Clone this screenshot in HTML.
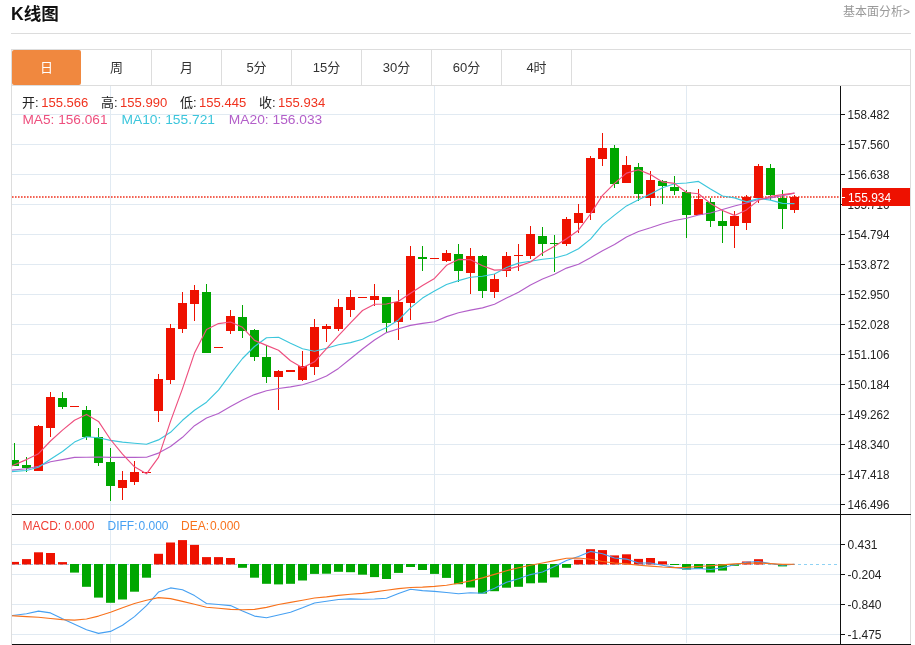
<!DOCTYPE html>
<html lang="zh-CN"><head><meta charset="utf-8"><title>K线图</title>
<style>
html,body{margin:0;padding:0;background:#fff;}
body{width:915px;height:645px;overflow:hidden;position:relative;font-family:"Liberation Sans","Noto Sans CJK SC",sans-serif;}
svg{position:absolute;left:0;top:0;display:block;}
svg text{font-family:"Liberation Sans","Noto Sans CJK SC",sans-serif;}
.ax{font-size:12px;fill:#222;}
.tab{font-size:13px;fill:#333;text-anchor:middle;}
</style></head><body>
<svg width="915" height="645" viewBox="0 0 915 645">
<defs><clipPath id="cp"><rect x="12" y="86" width="828" height="558"/></clipPath></defs>
<text x="11" y="19.6" font-size="17.6" font-weight="bold" fill="#111">K线图</text>
<text x="910" y="15.5" font-size="12" fill="#999" text-anchor="end">基本面分析&gt;</text>
<rect x="11" y="33" width="900" height="1" fill="#dcdcdc"/>
<rect x="11.5" y="49.5" width="899" height="36" fill="#fff" stroke="#dddddd" stroke-width="1"/>
<rect x="12" y="50" width="69" height="35" rx="2" ry="2" fill="#f0883f"/>
<text class="tab" x="46.5" y="72.2" style="fill:#fff">日</text>
<text class="tab" x="116.5" y="72.2">周</text>
<rect x="151" y="50" width="1" height="35" fill="#dddddd"/>
<text class="tab" x="186.5" y="72.2">月</text>
<rect x="221" y="50" width="1" height="35" fill="#dddddd"/>
<text class="tab" x="256.5" y="72.2">5分</text>
<rect x="291" y="50" width="1" height="35" fill="#dddddd"/>
<text class="tab" x="326.5" y="72.2">15分</text>
<rect x="361" y="50" width="1" height="35" fill="#dddddd"/>
<text class="tab" x="396.5" y="72.2">30分</text>
<rect x="431" y="50" width="1" height="35" fill="#dddddd"/>
<text class="tab" x="466.5" y="72.2">60分</text>
<rect x="501" y="50" width="1" height="35" fill="#dddddd"/>
<text class="tab" x="536.5" y="72.2">4时</text>
<rect x="571" y="50" width="1" height="35" fill="#dddddd"/>
<rect x="11" y="86" width="1" height="559" fill="#dddddd"/>
<rect x="910" y="86" width="1" height="559" fill="#dddddd"/>
<rect x="12" y="114" width="828" height="1" fill="#e1eaf2"/>
<rect x="12" y="144" width="828" height="1" fill="#e1eaf2"/>
<rect x="12" y="174" width="828" height="1" fill="#e1eaf2"/>
<rect x="12" y="204" width="828" height="1" fill="#e1eaf2"/>
<rect x="12" y="234" width="828" height="1" fill="#e1eaf2"/>
<rect x="12" y="264" width="828" height="1" fill="#e1eaf2"/>
<rect x="12" y="294" width="828" height="1" fill="#e1eaf2"/>
<rect x="12" y="324" width="828" height="1" fill="#e1eaf2"/>
<rect x="12" y="354" width="828" height="1" fill="#e1eaf2"/>
<rect x="12" y="384" width="828" height="1" fill="#e1eaf2"/>
<rect x="12" y="414" width="828" height="1" fill="#e1eaf2"/>
<rect x="12" y="444" width="828" height="1" fill="#e1eaf2"/>
<rect x="12" y="474" width="828" height="1" fill="#e1eaf2"/>
<rect x="12" y="504" width="828" height="1" fill="#e1eaf2"/>
<rect x="12" y="544" width="828" height="1" fill="#e1eaf2"/>
<rect x="12" y="574" width="828" height="1" fill="#e1eaf2"/>
<rect x="12" y="604" width="828" height="1" fill="#e1eaf2"/>
<rect x="12" y="634" width="828" height="1" fill="#e1eaf2"/>
<rect x="110" y="86" width="1" height="557" fill="#e1eaf2"/>
<rect x="434" y="86" width="1" height="557" fill="#e1eaf2"/>
<rect x="686" y="86" width="1" height="557" fill="#e1eaf2"/>
<text x="22.1" y="106.6" font-size="13" fill="#222">开:</text>
<text x="41.2" y="106.6" font-size="13" fill="#f0321e" textLength="47.2" lengthAdjust="spacingAndGlyphs">155.566</text>
<text x="101" y="106.6" font-size="13" fill="#222">高:</text>
<text x="120" y="106.6" font-size="13" fill="#f0321e" textLength="47.2" lengthAdjust="spacingAndGlyphs">155.990</text>
<text x="180" y="106.6" font-size="13" fill="#222">低:</text>
<text x="199" y="106.6" font-size="13" fill="#f0321e" textLength="47.2" lengthAdjust="spacingAndGlyphs">155.445</text>
<text x="259" y="106.6" font-size="13" fill="#222">收:</text>
<text x="278" y="106.6" font-size="13" fill="#f0321e" textLength="47.2" lengthAdjust="spacingAndGlyphs">155.934</text>
<text x="22.5" y="123.9" font-size="13" fill="#ee4f7e" textLength="85" lengthAdjust="spacingAndGlyphs">MA5: 156.061</text>
<text x="121.5" y="123.9" font-size="13" fill="#3cc6dc" textLength="93.5" lengthAdjust="spacingAndGlyphs">MA10: 155.721</text>
<text x="228.8" y="123.9" font-size="13" fill="#b35fc9" textLength="93.5" lengthAdjust="spacingAndGlyphs">MA20: 156.033</text>
<line x1="12" y1="197" x2="840" y2="197" stroke="#f0321e" stroke-width="1.4" stroke-dasharray="1.6,1.4"/>
<g clip-path="url(#cp)">
<line x1="12" y1="564.5" x2="838" y2="564.5" stroke="#8fd2f4" stroke-width="1" stroke-dasharray="3,3"/>
<rect x="10" y="561.9" width="9" height="2.6" fill="#ee1100"/>
<rect x="22" y="559.1" width="9" height="5.4" fill="#ee1100"/>
<rect x="34" y="552.3" width="9" height="12.2" fill="#ee1100"/>
<rect x="46" y="553" width="9" height="11.5" fill="#ee1100"/>
<rect x="58" y="562.1" width="9" height="2.4" fill="#ee1100"/>
<rect x="70" y="564" width="9" height="8.6" fill="#00a600"/>
<rect x="82" y="564" width="9" height="22.8" fill="#00a600"/>
<rect x="94" y="564" width="9" height="33.6" fill="#00a600"/>
<rect x="106" y="564" width="9" height="38.8" fill="#00a600"/>
<rect x="118" y="564" width="9" height="35.5" fill="#00a600"/>
<rect x="130" y="564" width="9" height="27.7" fill="#00a600"/>
<rect x="142" y="564" width="9" height="13.7" fill="#00a600"/>
<rect x="154" y="553.8" width="9" height="10.7" fill="#ee1100"/>
<rect x="166" y="542.5" width="9" height="22" fill="#ee1100"/>
<rect x="178" y="540.1" width="9" height="24.4" fill="#ee1100"/>
<rect x="190" y="544.9" width="9" height="19.6" fill="#ee1100"/>
<rect x="202" y="557.1" width="9" height="7.4" fill="#ee1100"/>
<rect x="214" y="557.1" width="9" height="7.4" fill="#ee1100"/>
<rect x="226" y="558" width="9" height="6.5" fill="#ee1100"/>
<rect x="238" y="564" width="9" height="3.8" fill="#00a600"/>
<rect x="250" y="564" width="9" height="13.7" fill="#00a600"/>
<rect x="262" y="564" width="9" height="19.8" fill="#00a600"/>
<rect x="274" y="564" width="9" height="20.4" fill="#00a600"/>
<rect x="286" y="564" width="9" height="19.8" fill="#00a600"/>
<rect x="298" y="564" width="9" height="16.5" fill="#00a600"/>
<rect x="310" y="564" width="9" height="9.9" fill="#00a600"/>
<rect x="322" y="564" width="9" height="9.7" fill="#00a600"/>
<rect x="334" y="564" width="9" height="7.8" fill="#00a600"/>
<rect x="346" y="564" width="9" height="8.2" fill="#00a600"/>
<rect x="358" y="564" width="9" height="10.7" fill="#00a600"/>
<rect x="370" y="564" width="9" height="13.1" fill="#00a600"/>
<rect x="382" y="564" width="9" height="15" fill="#00a600"/>
<rect x="394" y="564" width="9" height="8.9" fill="#00a600"/>
<rect x="406" y="564" width="9" height="3" fill="#00a600"/>
<rect x="418" y="564" width="9" height="6" fill="#00a600"/>
<rect x="430" y="564" width="9" height="9.9" fill="#00a600"/>
<rect x="442" y="564" width="9" height="13.9" fill="#00a600"/>
<rect x="454" y="564" width="9" height="20.2" fill="#00a600"/>
<rect x="466" y="564" width="9" height="23.5" fill="#00a600"/>
<rect x="478" y="564" width="9" height="29.6" fill="#00a600"/>
<rect x="490" y="564" width="9" height="27.2" fill="#00a600"/>
<rect x="502" y="564" width="9" height="23.7" fill="#00a600"/>
<rect x="514" y="564" width="9" height="22.8" fill="#00a600"/>
<rect x="526" y="564" width="9" height="19.3" fill="#00a600"/>
<rect x="538" y="564" width="9" height="18.7" fill="#00a600"/>
<rect x="550" y="564" width="9" height="13.4" fill="#00a600"/>
<rect x="562" y="564" width="9" height="3.8" fill="#00a600"/>
<rect x="574" y="559.7" width="9" height="4.8" fill="#ee1100"/>
<rect x="586" y="549.2" width="9" height="15.3" fill="#ee1100"/>
<rect x="598" y="550.1" width="9" height="14.4" fill="#ee1100"/>
<rect x="610" y="555.4" width="9" height="9.1" fill="#ee1100"/>
<rect x="622" y="554.3" width="9" height="10.2" fill="#ee1100"/>
<rect x="634" y="558.9" width="9" height="5.6" fill="#ee1100"/>
<rect x="646" y="558" width="9" height="6.5" fill="#ee1100"/>
<rect x="658" y="561.3" width="9" height="3.2" fill="#ee1100"/>
<rect x="670" y="564" width="9" height="1" fill="#00a600"/>
<rect x="682" y="564" width="9" height="5.6" fill="#00a600"/>
<rect x="694" y="564" width="9" height="4.9" fill="#00a600"/>
<rect x="706" y="564" width="9" height="8.5" fill="#00a600"/>
<rect x="718" y="564" width="9" height="6.6" fill="#00a600"/>
<rect x="730" y="564" width="9" height="1.8" fill="#00a600"/>
<rect x="742" y="561.5" width="9" height="3" fill="#ee1100"/>
<rect x="754" y="559.2" width="9" height="5.3" fill="#ee1100"/>
<rect x="778" y="564" width="9" height="2.4" fill="#00a600"/>
<rect x="14" y="443" width="1" height="23" fill="#00a600"/>
<rect x="10" y="460" width="9" height="6" fill="#00a600"/>
<rect x="26" y="457" width="1" height="15" fill="#00a600"/>
<rect x="22" y="465" width="9" height="3" fill="#00a600"/>
<rect x="38" y="425" width="1" height="46" fill="#ee1100"/>
<rect x="34" y="426" width="9" height="45" fill="#ee1100"/>
<rect x="50" y="392" width="1" height="45" fill="#ee1100"/>
<rect x="46" y="397" width="9" height="31" fill="#ee1100"/>
<rect x="62" y="392" width="1" height="17" fill="#00a600"/>
<rect x="58" y="398" width="9" height="9" fill="#00a600"/>
<rect x="70" y="406" width="9" height="1" fill="#ee1100"/>
<rect x="86" y="406" width="1" height="34" fill="#00a600"/>
<rect x="82" y="410" width="9" height="27" fill="#00a600"/>
<rect x="98" y="428" width="1" height="38" fill="#00a600"/>
<rect x="94" y="437" width="9" height="26" fill="#00a600"/>
<rect x="110" y="448" width="1" height="53" fill="#00a600"/>
<rect x="106" y="462" width="9" height="24" fill="#00a600"/>
<rect x="122" y="471" width="1" height="29" fill="#ee1100"/>
<rect x="118" y="480" width="9" height="8" fill="#ee1100"/>
<rect x="134" y="461" width="1" height="24" fill="#ee1100"/>
<rect x="130" y="472" width="9" height="10" fill="#ee1100"/>
<rect x="142" y="472" width="9" height="1" fill="#ee1100"/>
<rect x="158" y="374" width="1" height="48" fill="#ee1100"/>
<rect x="154" y="379" width="9" height="32" fill="#ee1100"/>
<rect x="170" y="324" width="1" height="60" fill="#ee1100"/>
<rect x="166" y="328" width="9" height="52" fill="#ee1100"/>
<rect x="182" y="292" width="1" height="41" fill="#ee1100"/>
<rect x="178" y="303" width="9" height="26" fill="#ee1100"/>
<rect x="194" y="285" width="1" height="36" fill="#ee1100"/>
<rect x="190" y="290" width="9" height="14" fill="#ee1100"/>
<rect x="206" y="284" width="1" height="69" fill="#00a600"/>
<rect x="202" y="292" width="9" height="61" fill="#00a600"/>
<rect x="214" y="347" width="9" height="1" fill="#ee1100"/>
<rect x="230" y="310" width="1" height="24" fill="#ee1100"/>
<rect x="226" y="316" width="9" height="15" fill="#ee1100"/>
<rect x="242" y="305" width="1" height="33" fill="#00a600"/>
<rect x="238" y="317" width="9" height="14" fill="#00a600"/>
<rect x="254" y="329" width="1" height="32" fill="#00a600"/>
<rect x="250" y="330" width="9" height="27" fill="#00a600"/>
<rect x="266" y="345" width="1" height="38" fill="#00a600"/>
<rect x="262" y="357" width="9" height="20" fill="#00a600"/>
<rect x="278" y="370" width="1" height="40" fill="#ee1100"/>
<rect x="274" y="371" width="9" height="6" fill="#ee1100"/>
<rect x="286" y="370" width="9" height="2" fill="#ee1100"/>
<rect x="302" y="351" width="1" height="30" fill="#ee1100"/>
<rect x="298" y="366" width="9" height="14" fill="#ee1100"/>
<rect x="314" y="319" width="1" height="56" fill="#ee1100"/>
<rect x="310" y="327" width="9" height="40" fill="#ee1100"/>
<rect x="326" y="324" width="1" height="18" fill="#ee1100"/>
<rect x="322" y="326" width="9" height="3" fill="#ee1100"/>
<rect x="338" y="299" width="1" height="32" fill="#ee1100"/>
<rect x="334" y="307" width="9" height="22" fill="#ee1100"/>
<rect x="350" y="290" width="1" height="27" fill="#ee1100"/>
<rect x="346" y="297" width="9" height="13" fill="#ee1100"/>
<rect x="358" y="297" width="9" height="1" fill="#ee1100"/>
<rect x="374" y="284" width="1" height="22" fill="#ee1100"/>
<rect x="370" y="296" width="9" height="4" fill="#ee1100"/>
<rect x="386" y="297" width="1" height="35" fill="#00a600"/>
<rect x="382" y="297" width="9" height="26" fill="#00a600"/>
<rect x="398" y="290" width="1" height="50" fill="#ee1100"/>
<rect x="394" y="302" width="9" height="20" fill="#ee1100"/>
<rect x="410" y="246" width="1" height="74" fill="#ee1100"/>
<rect x="406" y="256" width="9" height="47" fill="#ee1100"/>
<rect x="422" y="246" width="1" height="25" fill="#00a600"/>
<rect x="418" y="257" width="9" height="2" fill="#00a600"/>
<rect x="430" y="258" width="9" height="1" fill="#ee1100"/>
<rect x="446" y="250" width="1" height="12" fill="#ee1100"/>
<rect x="442" y="253" width="9" height="8" fill="#ee1100"/>
<rect x="458" y="244" width="1" height="38" fill="#00a600"/>
<rect x="454" y="254" width="9" height="17" fill="#00a600"/>
<rect x="470" y="248" width="1" height="46" fill="#ee1100"/>
<rect x="466" y="256" width="9" height="17" fill="#ee1100"/>
<rect x="482" y="255" width="1" height="43" fill="#00a600"/>
<rect x="478" y="256" width="9" height="35" fill="#00a600"/>
<rect x="494" y="274" width="1" height="24" fill="#ee1100"/>
<rect x="490" y="279" width="9" height="13" fill="#ee1100"/>
<rect x="506" y="252" width="1" height="25" fill="#ee1100"/>
<rect x="502" y="256" width="9" height="15" fill="#ee1100"/>
<rect x="518" y="244" width="1" height="27" fill="#ee1100"/>
<rect x="514" y="255" width="9" height="1" fill="#ee1100"/>
<rect x="530" y="226" width="1" height="33" fill="#ee1100"/>
<rect x="526" y="234" width="9" height="22" fill="#ee1100"/>
<rect x="542" y="227" width="1" height="29" fill="#00a600"/>
<rect x="538" y="236" width="9" height="8" fill="#00a600"/>
<rect x="554" y="235" width="1" height="37" fill="#00a600"/>
<rect x="550" y="243" width="9" height="1" fill="#00a600"/>
<rect x="566" y="217" width="1" height="29" fill="#ee1100"/>
<rect x="562" y="219" width="9" height="25" fill="#ee1100"/>
<rect x="578" y="204" width="1" height="29" fill="#ee1100"/>
<rect x="574" y="213" width="9" height="10" fill="#ee1100"/>
<rect x="590" y="156" width="1" height="64" fill="#ee1100"/>
<rect x="586" y="158" width="9" height="55" fill="#ee1100"/>
<rect x="602" y="133" width="1" height="33" fill="#ee1100"/>
<rect x="598" y="148" width="9" height="11" fill="#ee1100"/>
<rect x="614" y="145" width="1" height="43" fill="#00a600"/>
<rect x="610" y="148" width="9" height="36" fill="#00a600"/>
<rect x="626" y="156" width="1" height="27" fill="#ee1100"/>
<rect x="622" y="165" width="9" height="18" fill="#ee1100"/>
<rect x="638" y="163" width="1" height="38" fill="#00a600"/>
<rect x="634" y="167" width="9" height="27" fill="#00a600"/>
<rect x="650" y="171" width="1" height="35" fill="#ee1100"/>
<rect x="646" y="180" width="9" height="18" fill="#ee1100"/>
<rect x="662" y="180" width="1" height="24" fill="#00a600"/>
<rect x="658" y="181" width="9" height="5" fill="#00a600"/>
<rect x="674" y="176" width="1" height="19" fill="#00a600"/>
<rect x="670" y="187" width="9" height="4" fill="#00a600"/>
<rect x="686" y="190" width="1" height="48" fill="#00a600"/>
<rect x="682" y="192" width="9" height="23" fill="#00a600"/>
<rect x="698" y="189" width="1" height="26" fill="#ee1100"/>
<rect x="694" y="199" width="9" height="16" fill="#ee1100"/>
<rect x="710" y="198" width="1" height="29" fill="#00a600"/>
<rect x="706" y="202" width="9" height="19" fill="#00a600"/>
<rect x="722" y="210" width="1" height="33" fill="#00a600"/>
<rect x="718" y="221" width="9" height="5" fill="#00a600"/>
<rect x="734" y="211" width="1" height="37" fill="#ee1100"/>
<rect x="730" y="216" width="9" height="10" fill="#ee1100"/>
<rect x="746" y="195" width="1" height="35" fill="#ee1100"/>
<rect x="742" y="197" width="9" height="26" fill="#ee1100"/>
<rect x="758" y="164" width="1" height="39" fill="#ee1100"/>
<rect x="754" y="166" width="9" height="32" fill="#ee1100"/>
<rect x="770" y="164" width="1" height="36" fill="#00a600"/>
<rect x="766" y="168" width="9" height="27" fill="#00a600"/>
<rect x="782" y="190" width="1" height="39" fill="#00a600"/>
<rect x="778" y="198" width="9" height="11" fill="#00a600"/>
<rect x="794" y="195" width="1" height="18" fill="#ee1100"/>
<rect x="790" y="197" width="9" height="13" fill="#ee1100"/>
<polyline fill="none" stroke="#b35fc9" stroke-width="1.15" stroke-linejoin="round" points="2.5,471 14.5,469.9 26.5,468.8 38.5,466.2 50.5,461.8 62.5,459.6 74.5,457.4 86.5,457.2 98.5,457 110.5,457.4 122.5,457.4 134.5,457.4 146.5,457.2 158.5,453.1 170.5,446.5 182.5,437.3 194.5,425.7 206.5,418 218.5,413.5 230.5,406.6 242.5,400 254.5,394.6 266.5,390.7 278.5,388.5 290.5,386.9 302.5,384.8 314.5,381 326.5,376 338.5,368.4 350.5,358.7 362.5,349 374.5,340 386.5,332.6 398.5,328.7 410.5,325.4 422.5,323.4 434.5,321.7 446.5,316.6 458.5,312.7 470.5,310.1 482.5,307.9 494.5,304.2 506.5,298.1 518.5,292.2 530.5,284.9 542.5,279 554.5,274.2 566.5,268.1 578.5,264.2 590.5,257.7 602.5,250.7 614.5,244.6 626.5,236.9 638.5,231.5 650.5,227.8 662.5,223.8 674.5,220.5 686.5,218.2 698.5,215 710.5,213 722.5,209.5 734.5,206 746.5,203 758.5,199.5 770.5,197.9 782.5,195.7 794.5,193.1"/>
<polyline fill="none" stroke="#3cc6dc" stroke-width="1.15" stroke-linejoin="round" points="2.5,472.3 14.5,471.4 26.5,470.5 38.5,467.3 50.5,459.2 62.5,451.5 74.5,442.1 86.5,436.7 98.5,437.8 110.5,440.4 122.5,442.1 134.5,443.2 146.5,444.3 158.5,439.9 170.5,432.3 182.5,420.3 194.5,410.2 206.5,402.2 218.5,390.2 230.5,373.8 242.5,358.5 254.5,346.5 266.5,337.8 278.5,337.3 290.5,343.2 302.5,348.7 314.5,351.3 326.5,348.3 338.5,344.8 350.5,342.6 362.5,339.3 374.5,333 386.5,327.6 398.5,319.9 410.5,307.9 422.5,298.1 434.5,291.1 446.5,284.5 458.5,280.6 470.5,277.3 482.5,276.2 494.5,274 506.5,267.5 518.5,263.1 530.5,261.3 542.5,259.2 554.5,258 566.5,254.8 578.5,248.8 590.5,239.1 602.5,224.9 614.5,215.1 626.5,205.9 638.5,199.8 650.5,193.9 662.5,187.8 674.5,183.8 686.5,183 698.5,181.4 710.5,189 722.5,196 734.5,197.9 746.5,201.9 758.5,198.6 770.5,200.1 782.5,203.4 794.5,203.6"/>
<polyline fill="none" stroke="#ee4f7e" stroke-width="1.15" stroke-linejoin="round" points="2.5,470 14.5,464.8 26.5,459.6 38.5,453.7 50.5,441 62.5,430.1 74.5,420.3 86.5,414.4 98.5,421.4 110.5,439.5 122.5,454.2 134.5,466.8 146.5,473.8 158.5,457.4 170.5,421.4 182.5,388.6 194.5,353.1 206.5,329.5 218.5,323.6 230.5,322 242.5,327.3 254.5,340.4 266.5,345.4 278.5,350.2 290.5,360.7 302.5,367.7 314.5,361.8 326.5,348.7 338.5,335.6 350.5,322.8 362.5,310.5 374.5,304.2 386.5,304 398.5,301.3 410.5,293.3 422.5,285.4 434.5,278.4 446.5,265.3 458.5,259.4 470.5,259.8 482.5,265.7 494.5,270.1 506.5,269.6 518.5,266.4 530.5,262 542.5,253 554.5,246.2 566.5,238.8 578.5,230.2 590.5,214 602.5,195.4 614.5,183.4 626.5,173.1 638.5,169.8 650.5,174.6 662.5,181.9 674.5,183.4 686.5,192.5 698.5,193.8 710.5,203.5 722.5,210.5 734.5,215.4 746.5,209.9 758.5,200.1 770.5,196.4 782.5,194.6 794.5,193.1"/>
<polyline fill="none" stroke="#46a0f2" stroke-width="1.1" stroke-linejoin="round" points="2.5,616.9 14.5,615.3 26.5,613.7 38.5,611.1 50.5,612.9 62.5,618.8 74.5,624.2 86.5,629.7 98.5,633.4 110.5,631.4 122.5,625.3 134.5,616.6 146.5,605.6 158.5,592.1 170.5,587.9 182.5,589.7 194.5,595.6 206.5,603.5 218.5,604.5 230.5,605.6 242.5,611.1 254.5,616.1 266.5,617.7 278.5,615 290.5,612.2 302.5,607.8 314.5,603 326.5,601.3 338.5,599.5 350.5,598.9 362.5,599.3 374.5,599 386.5,598.2 398.5,593.6 410.5,589.2 422.5,590.6 434.5,591.4 446.5,592.5 458.5,593.8 470.5,592.7 482.5,593.2 494.5,588.2 506.5,582.3 518.5,578.8 530.5,574.6 542.5,572 554.5,566.6 566.5,560.4 578.5,556.5 590.5,551.4 602.5,553.8 614.5,558 626.5,559.1 638.5,563 650.5,563 662.5,565.2 674.5,567.4 686.5,569.1 698.5,568.5 710.5,569.5 722.5,567.8 734.5,564.7 746.5,562.3 758.5,561.5 770.5,563.6 782.5,565.3 794.5,564.3"/>
<polyline fill="none" stroke="#f8721c" stroke-width="1.1" stroke-linejoin="round" points="2.5,615.2 14.5,615.9 26.5,616.6 38.5,617.2 50.5,618.5 62.5,619.6 74.5,620.1 86.5,619 98.5,616.1 110.5,612.2 122.5,607.8 134.5,603.5 146.5,600.2 158.5,597.6 170.5,598.6 182.5,601.4 194.5,604.3 206.5,607.2 218.5,608.3 230.5,609.4 242.5,609.8 254.5,609.4 266.5,607.4 278.5,604.5 290.5,602.4 302.5,600.2 314.5,598 326.5,596.9 338.5,595.4 350.5,594.3 362.5,593.4 374.5,591.9 386.5,590.3 398.5,588.6 410.5,587.5 422.5,587.1 434.5,586.4 446.5,585.3 458.5,583.3 470.5,580.9 482.5,577.9 494.5,574.4 506.5,570.7 518.5,567.8 530.5,565.2 542.5,563 554.5,560.6 566.5,558.2 578.5,558 590.5,559.3 602.5,561.5 614.5,563 626.5,563.9 638.5,565.2 650.5,566.1 662.5,567 674.5,567.6 686.5,567.4 698.5,566.5 710.5,565.7 722.5,564.9 734.5,563.9 746.5,563.2 758.5,562.9 770.5,563.6 782.5,564.4 794.5,564.3"/>
</g>
<text x="22.5" y="529.5" font-size="12" fill="#f03c32" textLength="72" lengthAdjust="spacingAndGlyphs">MACD: 0.000</text>
<text x="107.5" y="529.5" font-size="12" fill="#46a0f2">DIFF:<tspan dx="1">0.000</tspan></text>
<text x="181" y="529.5" font-size="12" fill="#f8721c">DEA:<tspan dx="1">0.000</tspan></text>
<rect x="840" y="86" width="1" height="559" fill="#111"/>
<rect x="12" y="514" width="899" height="1" fill="#111"/>
<rect x="12" y="644" width="899" height="1" fill="#111"/>
<rect x="841" y="114" width="4" height="1" fill="#111"/>
<text class="ax" x="847.5" y="118.5" textLength="42" lengthAdjust="spacingAndGlyphs">158.482</text>
<rect x="841" y="144" width="4" height="1" fill="#111"/>
<text class="ax" x="847.5" y="148.5" textLength="42" lengthAdjust="spacingAndGlyphs">157.560</text>
<rect x="841" y="174" width="4" height="1" fill="#111"/>
<text class="ax" x="847.5" y="178.5" textLength="42" lengthAdjust="spacingAndGlyphs">156.638</text>
<rect x="841" y="204" width="4" height="1" fill="#111"/>
<text class="ax" x="847.5" y="208.5" textLength="42" lengthAdjust="spacingAndGlyphs">155.716</text>
<rect x="841" y="234" width="4" height="1" fill="#111"/>
<text class="ax" x="847.5" y="238.5" textLength="42" lengthAdjust="spacingAndGlyphs">154.794</text>
<rect x="841" y="264" width="4" height="1" fill="#111"/>
<text class="ax" x="847.5" y="268.5" textLength="42" lengthAdjust="spacingAndGlyphs">153.872</text>
<rect x="841" y="294" width="4" height="1" fill="#111"/>
<text class="ax" x="847.5" y="298.5" textLength="42" lengthAdjust="spacingAndGlyphs">152.950</text>
<rect x="841" y="324" width="4" height="1" fill="#111"/>
<text class="ax" x="847.5" y="328.5" textLength="42" lengthAdjust="spacingAndGlyphs">152.028</text>
<rect x="841" y="354" width="4" height="1" fill="#111"/>
<text class="ax" x="847.5" y="358.5" textLength="42" lengthAdjust="spacingAndGlyphs">151.106</text>
<rect x="841" y="384" width="4" height="1" fill="#111"/>
<text class="ax" x="847.5" y="388.5" textLength="42" lengthAdjust="spacingAndGlyphs">150.184</text>
<rect x="841" y="414" width="4" height="1" fill="#111"/>
<text class="ax" x="847.5" y="418.5" textLength="42" lengthAdjust="spacingAndGlyphs">149.262</text>
<rect x="841" y="444" width="4" height="1" fill="#111"/>
<text class="ax" x="847.5" y="448.5" textLength="42" lengthAdjust="spacingAndGlyphs">148.340</text>
<rect x="841" y="474" width="4" height="1" fill="#111"/>
<text class="ax" x="847.5" y="478.5" textLength="42" lengthAdjust="spacingAndGlyphs">147.418</text>
<rect x="841" y="504" width="4" height="1" fill="#111"/>
<text class="ax" x="847.5" y="508.5" textLength="42" lengthAdjust="spacingAndGlyphs">146.496</text>
<rect x="841" y="544" width="4" height="1" fill="#111"/>
<text class="ax" x="847.5" y="548.5">0.431</text>
<rect x="841" y="574" width="4" height="1" fill="#111"/>
<text class="ax" x="847.5" y="578.5">-0.204</text>
<rect x="841" y="604" width="4" height="1" fill="#111"/>
<text class="ax" x="847.5" y="608.5">-0.840</text>
<rect x="841" y="634" width="4" height="1" fill="#111"/>
<text class="ax" x="847.5" y="638.5">-1.475</text>
<rect x="842" y="188" width="68" height="18" fill="#ee1100"/>
<rect x="841" y="197" width="4" height="1" fill="#fff"/>
<text x="848" y="201.6" font-size="12.5" fill="#fff" textLength="43" lengthAdjust="spacingAndGlyphs">155.934</text>
</svg>
</body></html>
